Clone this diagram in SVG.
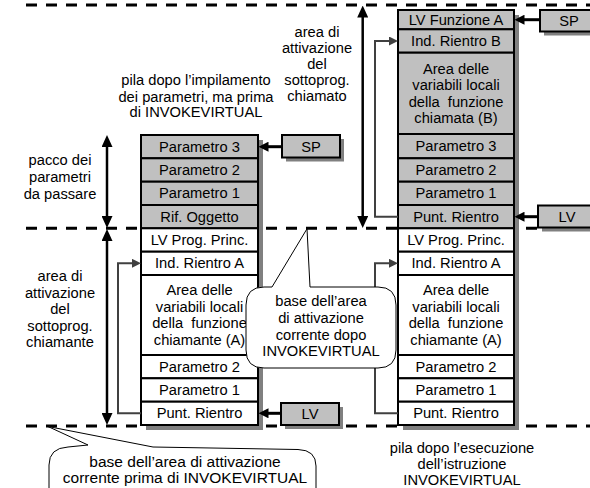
<svg xmlns="http://www.w3.org/2000/svg" width="590" height="488" viewBox="0 0 590 488">
  <style>
    text { font-family: "Liberation Sans", Arial, sans-serif; font-size: 14.7px; fill: #000; text-anchor: middle; }
    .big { font-size: 15.5px; }
    .cell { stroke: #000; stroke-width: 2; }
    .gray { fill: #c0c0c0; }
    .white { fill: #fff; }
    .shadow { fill: #808080; }
    .dash { stroke: #000; stroke-width: 3; stroke-dasharray: 11 9; fill: none; }
    .span { stroke: #000; stroke-width: 2.5; fill: none; marker-start: url(#vh); marker-end: url(#vh); }
    .push { stroke: #000; stroke-width: 3; fill: none; marker-end: url(#ah); }
    .link { stroke: #404040; stroke-width: 2; fill: none; marker-end: url(#ag); }
    .callout { fill: #fff; stroke: #000; stroke-width: 1; }
  </style>
  <defs>
    <marker id="vh" markerUnits="userSpaceOnUse" markerWidth="12" markerHeight="11" refX="5" refY="5.5" orient="auto-start-reverse">
      <path d="M0,0 L12,5.5 L0,11 Z" fill="#000"/>
    </marker>
    <marker id="ah" markerUnits="userSpaceOnUse" markerWidth="10" markerHeight="10" refX="4" refY="5" orient="auto">
      <path d="M0,0 L10,5 L0,10 Z" fill="#000"/>
    </marker>
    <marker id="ag" markerUnits="userSpaceOnUse" markerWidth="9" markerHeight="9" refX="3" refY="4.5" orient="auto">
      <path d="M0,0 L9,4.5 L0,9 Z" fill="#404040"/>
    </marker>
  </defs>

  <!-- stack boundaries -->
  <g id="boundaries">
    <line class="dash" x1="26" y1="5" x2="590" y2="5"/>
    <line class="dash" x1="26" y1="228.3" x2="590" y2="228.3"/>
    <line class="dash" x1="26" y1="426" x2="590" y2="426"/>
  </g>

  <!-- side labels -->
  <g id="label-pacco">
    <text x="60" y="165">pacco dei</text>
    <text x="60" y="182">parametri</text>
    <text x="60" y="199">da passare</text>
  </g>
  <g id="label-chiamante">
    <text x="60" y="281">area di</text>
    <text x="60" y="297.5">attivazione</text>
    <text x="60" y="314">del</text>
    <text x="60" y="330.5">sottoprog.</text>
    <text x="60" y="347">chiamante</text>
  </g>
  <g id="label-chiamato">
    <text x="317" y="37">area di</text>
    <text x="317" y="53">attivazione</text>
    <text x="317" y="69">del</text>
    <text x="317" y="85">sottoprog.</text>
    <text x="317" y="101">chiamato</text>
  </g>
  <g id="label-before">
    <text x="196" y="85">pila dopo l’impilamento</text>
    <text x="196" y="101.5">dei parametri, ma prima</text>
    <text x="196" y="117">di INVOKEVIRTUAL</text>
  </g>
  <g id="label-after">
    <text x="462" y="453">pila dopo l’esecuzione</text>
    <text x="462" y="469">dell’istruzione</text>
    <text x="462" y="485">INVOKEVIRTUAL</text>
  </g>

  <!-- stack before the call -->
  <g id="stack-before">
    <rect class="shadow" x="146" y="140" width="117" height="290"/>
    <rect class="cell gray" x="141" y="135" width="117" height="23.3"/>
    <rect class="cell gray" x="141" y="158.3" width="117" height="23.4"/>
    <rect class="cell gray" x="141" y="181.7" width="117" height="23.3"/>
    <rect class="cell gray" x="141" y="205" width="117" height="23.3"/>
    <rect class="cell white" x="141" y="228.3" width="117" height="23.4"/>
    <rect class="cell white" x="141" y="251.7" width="117" height="23.3"/>
    <rect class="cell white" x="141" y="275" width="117" height="80"/>
    <rect class="cell white" x="141" y="355" width="117" height="23.3"/>
    <rect class="cell white" x="141" y="378.3" width="117" height="23.4"/>
    <rect class="cell white" x="141" y="401.7" width="117" height="23.3"/>
    <text x="199.5" y="151.7">Parametro 3</text>
    <text x="199.5" y="175">Parametro 2</text>
    <text x="199.5" y="198.3">Parametro 1</text>
    <text x="199.5" y="221.7">Rif. Oggetto</text>
    <text x="199.5" y="245">LV Prog. Princ.</text>
    <text x="199.5" y="268.3">Ind. Rientro A</text>
    <text x="199.5" y="295">Area delle</text>
    <text x="199.5" y="311.5">variabili locali</text>
    <text x="199.5" y="328">della&#160; funzione</text>
    <text x="199.5" y="344.5">chiamante (A)</text>
    <text x="199.5" y="371.7">Parametro 2</text>
    <text x="199.5" y="395">Parametro 1</text>
    <text x="199.5" y="418.3">Punt. Rientro</text>
  </g>

  <!-- stack after the call -->
  <g id="stack-after">
    <rect class="shadow" x="403" y="15" width="116" height="415"/>
    <rect class="cell gray" x="398" y="10" width="116" height="19.3"/>
    <rect class="cell gray" x="398" y="29.3" width="116" height="23.4"/>
    <rect class="cell gray" x="398" y="52.7" width="116" height="81.3"/>
    <rect class="cell gray" x="398" y="134" width="116" height="24.3"/>
    <rect class="cell gray" x="398" y="158.3" width="116" height="23.4"/>
    <rect class="cell gray" x="398" y="181.7" width="116" height="23.3"/>
    <rect class="cell gray" x="398" y="205" width="116" height="23.3"/>
    <rect class="cell white" x="398" y="228.3" width="116" height="23.4"/>
    <rect class="cell white" x="398" y="251.7" width="116" height="23.3"/>
    <rect class="cell white" x="398" y="275" width="116" height="80"/>
    <rect class="cell white" x="398" y="355" width="116" height="23.3"/>
    <rect class="cell white" x="398" y="378.3" width="116" height="23.4"/>
    <rect class="cell white" x="398" y="401.7" width="116" height="23.3"/>
    <text x="456" y="24.7">LV Funzione A</text>
    <text x="456" y="46">Ind. Rientro B</text>
    <text x="456" y="73.5">Area delle</text>
    <text x="456" y="90">variabili locali</text>
    <text x="456" y="106.5">della&#160; funzione</text>
    <text x="456" y="123">chiamata (B)</text>
    <text x="456" y="151.2">Parametro 3</text>
    <text x="456" y="175">Parametro 2</text>
    <text x="456" y="198.3">Parametro 1</text>
    <text x="456" y="221.7">Punt. Rientro</text>
    <text x="456" y="245">LV Prog. Princ.</text>
    <text x="456" y="268.3">Ind. Rientro A</text>
    <text x="456" y="295">Area delle</text>
    <text x="456" y="311.5">variabili locali</text>
    <text x="456" y="328">della&#160; funzione</text>
    <text x="456" y="344.5">chiamante (A)</text>
    <text x="456" y="371.7">Parametro 2</text>
    <text x="456" y="395">Parametro 1</text>
    <text x="456" y="418.3">Punt. Rientro</text>
  </g>

  <!-- register boxes -->
  <g id="sp-before">
    <rect class="shadow" x="286" y="139" width="58" height="22.5"/>
    <rect class="cell gray" x="282" y="135" width="58" height="22.5"/>
    <text x="311" y="151.5">SP</text>
  </g>
  <g id="lv-before">
    <rect class="shadow" x="285" y="407" width="58" height="22"/>
    <rect class="cell gray" x="281" y="403" width="58" height="22"/>
    <text x="310" y="419">LV</text>
  </g>
  <g id="sp-after">
    <rect class="shadow" x="544" y="14" width="58" height="21.5"/>
    <rect class="cell gray" x="540" y="10" width="58" height="21.5"/>
    <text x="569" y="25.7">SP</text>
  </g>
  <g id="lv-after">
    <rect class="shadow" x="542" y="209.5" width="58" height="22"/>
    <rect class="cell gray" x="538" y="205.5" width="58" height="22"/>
    <text x="567" y="221.7">LV</text>
  </g>

  <!-- connectors -->
  <g id="connectors">
    <line class="span" x1="107" y1="142" x2="107" y2="221"/>
    <line class="span" x1="107" y1="236" x2="107" y2="418"/>
    <line class="span" x1="362.7" y1="12.5" x2="362.7" y2="221"/>
    <line class="push" x1="282" y1="146.7" x2="264.5" y2="146.7"/>
    <line class="push" x1="281" y1="413.3" x2="264.5" y2="413.3"/>
    <line class="push" x1="540" y1="19.7" x2="520.5" y2="19.7"/>
    <line class="push" x1="538" y1="216.7" x2="520.5" y2="216.7"/>
    <path class="link" d="M141,413.3 H118 V263.3 H135"/>
    <path class="link" d="M398,413.3 H375 V263.3 H392"/>
    <path class="link" d="M398,216.7 H375 V41 H392"/>
  </g>

  <!-- callouts -->
  <g id="callout-after">
    <path class="callout" d="M272,287 L307,228.8 L310,287 L378,287 Q396,287 396,305 L396,350 Q396,368 378,368 L264,368 Q246,368 246,350 L246,305 Q246,287 264,287 Z"/>
    <text x="321" y="306">base dell’area</text>
    <text x="321" y="323">di attivazione</text>
    <text x="321" y="339.5">corrente dopo</text>
    <text x="321" y="356">INVOKEVIRTUAL</text>
  </g>
  <g id="callout-before">
    <path class="callout" d="M49,492 L49,465 Q49,448 68,447 L88,445 L48,426.5 L153,447 L298,449.5 Q316,450 316,466 L316,492"/>
    <text class="big" x="185" y="467">base dell’area di attivazione</text>
    <text class="big" x="185" y="482.5">corrente prima di INVOKEVIRTUAL</text>
  </g>
</svg>
